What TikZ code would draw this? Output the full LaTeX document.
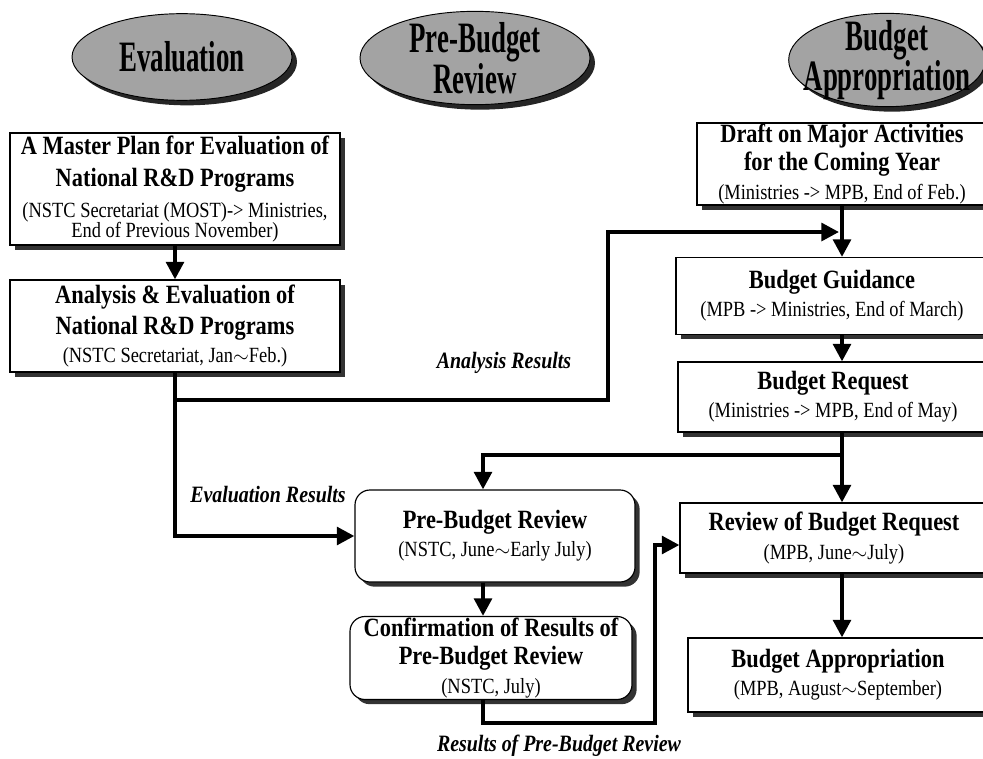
\documentclass[tikz,border=0pt]{standalone}
\usepackage{fontspec}
\setmainfont{Liberation Serif}[FakeStretch=0.85]
\newfontfamily\hdrfont{Liberation Serif}[FakeStretch=0.62]
\newcommand{\subt}{\mdseries\fontsize{18.5}{17}\selectfont}
\usetikzlibrary{positioning, calc, shapes.geometric, shadows, arrows.meta}

\begin{document}
\begin{tikzpicture}[x=0.03cm, y=-0.03cm,
  hdr/.style={ellipse, draw, line width=0.8pt, fill=black!36, minimum width=6.6cm, minimum height=2.6cm, drop shadow={shadow xshift=0.15cm, shadow yshift=-0.15cm, fill=black!85, opacity=1}},
  hdrtext/.style={align=center, font=\hdrfont\bfseries\fontsize{37}{32}\selectfont},
  block/.style={rectangle, draw, line width=1pt, fill=white, align=center, inner sep=0pt, font=\bfseries\fontsize{22.5}{24}\selectfont, drop shadow={shadow xshift=0.14cm, shadow yshift=-0.14cm, fill=black!80, opacity=1}},
  rblock/.style={block, rounded corners=0.45cm},
  lbl/.style={font=\bfseries\itshape\fontsize{20}{21}\selectfont},
  arr/.style={-{Triangle[width=15pt,length=15pt]}, line width=3.5pt}]
\useasboundingbox (0,0) rectangle (983,758);
% phase ovals
\node (e1) [hdr] at (182,57) {};
\node (e2) [hdr, minimum width=6.9cm, minimum height=2.8cm] at (475,58) {};
\node (e3) [hdr, minimum width=5.9cm, minimum height=2.8cm] at (887,60) {};
\node (t1) [hdrtext] at (e1) {Evaluation};
\node (t2) [hdrtext] at (e2) {Pre-Budget\\Review};
\node (t3) [hdrtext] at (e3) {Budget\\Appropriation};
% boxes
\node (b1) [block, minimum width=9.9cm, minimum height=3.36cm] at (175,189) {A Master Plan for Evaluation of\\[3pt]National R\&D Programs\\[3pt]\subt (NSTC Secretariat (MOST)-> Ministries,\\[-7pt]\subt End of Previous November)};
\node (b2) [block, minimum width=9.9cm, minimum height=2.76cm] at (175,326) {Analysis \& Evaluation of\\[3pt]National R\&D Programs\\\subt (NSTC Secretariat, Jan$\sim$Feb.)};
\node (b3) [block, minimum width=8.7cm, minimum height=2.46cm] at (842,164) {Draft on Major Activities\\for the Coming Year\\\subt (Ministries -> MPB, End of Feb.)};
\node (b4) [block, minimum width=9.36cm, minimum height=2.31cm] at (832,296) {Budget Guidance\\\subt (MPB -> Ministries, End of March)};
\node (b5) [block, minimum width=9.3cm, minimum height=2.1cm] at (833,397) {Budget Request\\\subt (Ministries -> MPB, End of May)};
\node (b6) [rblock, minimum width=8.4cm, minimum height=2.76cm] at (495,536) {Pre-Budget Review\\\subt (NSTC, June$\sim$Early July)};
\node (b7) [block, minimum width=9.24cm, minimum height=2.1cm] at (834,538) {Review of Budget Request\\\subt (MPB, June$\sim$July)};
\node (b8) [rblock, minimum width=8.46cm, minimum height=2.49cm] at (491,658) {Confirmation of Results of\\Pre-Budget Review\\\subt (NSTC, July)};
\node (b9) [block, minimum width=9cm, minimum height=2.22cm] at (838,675) {Budget Appropriation\\\subt (MPB, August$\sim$September)};
% labels
\node (l1) [lbl] at (504,363) {Analysis Results};
\node (l2) [lbl] at (268,495) {Evaluation Results};
\node (l3) [lbl] at (559,746) {Results of Pre-Budget Review};
% corners
\coordinate (c2) at (608,400);
\coordinate (c4) at (839,232);
\coordinate (c5) at (841,455);
\coordinate (c6) at (483,455);
\coordinate (c7) at (655,723);
  \begin{scope}
    \draw [arr] (b1) -- (b2);
    \draw [arr] (b2.south) |- (b6.west);
    \draw [arr] (b2.south |- c2) -- (c2) |- (c4);
    \draw [arr] (b3.south) -- (b3.south |- b4.north);
    \draw [arr] (b3.south |- b4.south) -- (b3.south |- b5.north);
    \draw [arr] (b3.south |- b5.south) -- (b3.south |- b7.north);
    \draw [arr] (c5) -- (c6) -- (b6.north -| c6);
    \draw [arr] (b6.south -| c6) -- (b8.north -| c6);
    \draw [arr] (b8.south -| c6) |- (c7) |- ($(b7.west)+(0,7)$);
    \draw [arr] (b3.south |- b7.south) -- (b3.south |- b9.north);
  \end{scope}
\end{tikzpicture}
\end{document}
